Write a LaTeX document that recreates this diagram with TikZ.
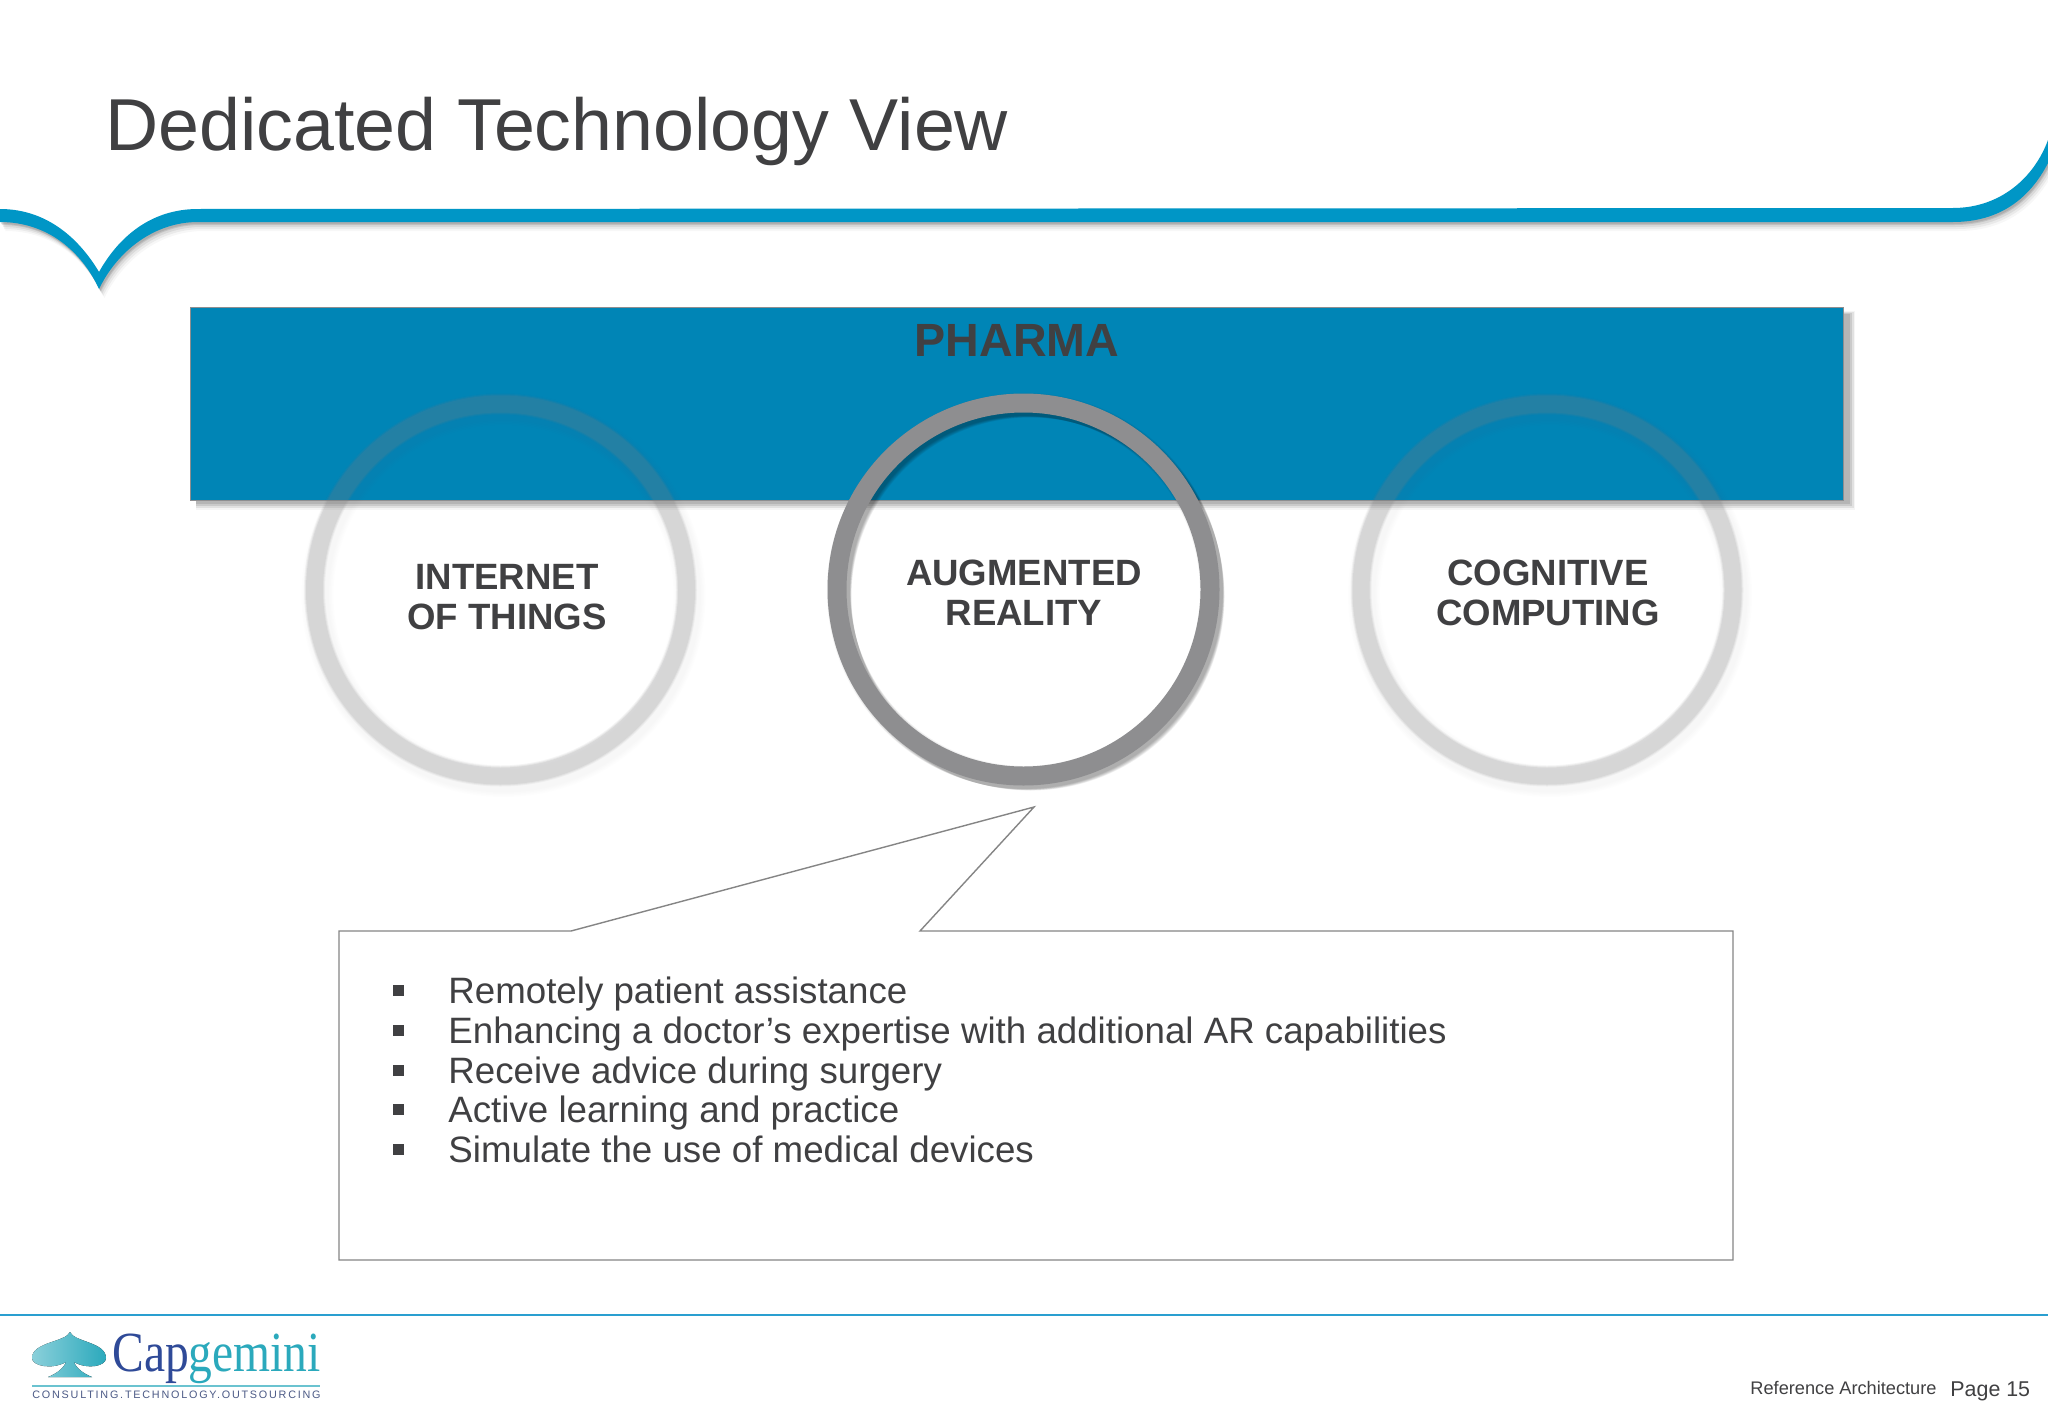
\documentclass[tikz,border=0pt]{standalone}
\usepackage{graphicx}
\usepackage{fontspec}
\setmainfont{Liberation Sans}
\newfontfamily\logoserif{Liberation Serif}
\newfontfamily\logotag[LetterSpace=16.5]{Liberation Sans}
\usetikzlibrary{shadings}
\definecolor{inkdark}{HTML}{404042}
\definecolor{bandblue}{HTML}{0096C6}
\definecolor{boxblue}{HTML}{0085B6}
\definecolor{ringgrey}{HTML}{8E8E90}
\definecolor{sidering}{HTML}{808082}
\definecolor{calloutline}{HTML}{858585}
\definecolor{footline}{HTML}{2A9FD0}
\definecolor{logoblue}{HTML}{2F4A98}
\definecolor{logoteal}{HTML}{2BA9BC}
\definecolor{tagslate}{HTML}{4C5A86}
\tikzset{
  x=0.5pt,y=-0.5pt,
  title text/.style={anchor=base west,inner sep=0pt,text=inkdark,font=\fontsize{36.8}{40}\selectfont},
  ring label/.style={align=center,inner sep=0pt,text=inkdark,font=\fontsize{18.3}{20}\selectfont\bfseries},
  bullet text/.style={anchor=base west,inner sep=0pt,text=inkdark,font=\fontsize{18.35}{20}\selectfont},
  bullet mark/.style={fill=inkdark,inner sep=0pt,minimum size=5.5pt,draw=none},
  foot small/.style={anchor=base west,inner sep=0pt,text=inkdark},
}
\def\BandPath{(0,209) .. controls (48,209) and (80,240) .. (99,272) .. controls (118,238) and (150,209) .. (198,209) -- (1953,208) .. controls (2000,208) and (2034,178) .. (2048,140) -- (2048,163) .. controls (2030,198) and (2000,222) .. (1953,222) -- (198,222) .. controls (155,222) and (118,250) .. (99,289) .. controls (82,252) and (48,222) .. (0,222) -- cycle}
\newcommand{\SideRing}[3]{%
  \foreach \w in {32,29,26,23}{\draw[line width=\w*0.5pt,sidering,opacity=0.010] (#1+3,#2+5) circle[radius=#3];}
  \draw[line width=10.5pt,sidering,opacity=0.07] (#1,#2) circle[radius=#3];
  \draw[line width=9.5pt,sidering,opacity=0.10] (#1,#2) circle[radius=#3];
  \draw[line width=8.5pt,sidering,opacity=0.12] (#1,#2) circle[radius=#3];
}
\begin{document}
\begin{tikzpicture}
\clip (0,0) rectangle (2048,1418);
\fill[white] (0,0) rectangle (2048,1418);
% header band with soft shadow
\foreach \o/\a in {9/0.03,7/0.05,5/0.07,3/0.10,2/0.10}{
  \fill[black,opacity=\a,shift={(0.3*\o pt,-0.5*\o pt)}] \BandPath;
}
\fill[bandblue] \BandPath;
\node[title text] (title) at (105,150) {Dedicated Technology View};
% blue banner
\fill[black,opacity=0.04] (196,311) rectangle (1855,510);
\fill[black,opacity=0.08] (196,312) rectangle (1854,508);
\fill[black,opacity=0.10] (196,313) rectangle (1852,506);
\fill[black,opacity=0.10] (196,314) rectangle (1850,504);
\node[fill=boxblue,draw=ringgrey,line width=0.5pt,inner sep=0pt,minimum width=826.5pt,minimum height=96.5pt] (banner) at (1016.5,403.5) {};
\node[anchor=base,inner sep=0pt,text=inkdark,font=\fontsize{23.3}{26}\selectfont\bfseries] (pharma) at (1017,356) {PHARMA};
% rings
\SideRing{500.5}{590}{186}
\SideRing{1547}{590}{186}
\foreach \o/\w in {10/15,9/16,8/17,7/18,6/19,5/20,4/21,3/22,2/23}{
  \draw[line width=\w*0.5pt,black,opacity=0.04] (1023.5+\o*0.7,589.5+\o*0.7) circle[radius=186.5];
}
\node[circle,draw=ringgrey,line width=9.5pt,minimum size=186.5pt,inner sep=0pt] (arring) at (1023.5,589.5) {};
\node[ring label] (iot) at (507,597) {INTERNET\\OF THINGS};
\node[ring label] (ar) at (1024,593) {AUGMENTED\\REALITY};
\node[ring label] (cc) at (1548,593) {COGNITIVE\\COMPUTING};
% callout
\draw[calloutline,line width=0.7pt,line join=miter,fill=white]
  (339,931) -- (571,931) -- (1034,807) -- (920,931) -- (1733,931) -- (1733,1260) -- (339,1260) -- cycle;
\foreach \n/\by/\t in {a/1003/Remotely patient assistance,b/1043/Enhancing a doctor’s expertise with additional AR capabilities,c/1083/Receive advice during surgery,d/1122/Active learning and practice,e/1162/Simulate the use of medical devices}{
  \node[bullet mark] (m\n) at (398,\by-13) {};
  \node[bullet text] (t\n) at (448,\by) {\t};
}
% footer
\draw[footline,line width=0.8pt] (0,1315) -- (2048,1315);
\fill[left color=logoteal!55!white,right color=logoteal]
  (70,1332) .. controls (74,1342) and (106,1342) .. (106,1358)
  .. controls (106,1366) and (88,1370) .. (74,1362)
  .. controls (76,1368) and (84,1374) .. (92,1377) -- (48,1377)
  .. controls (56,1374) and (64,1368) .. (66,1362)
  .. controls (52,1370) and (32,1366) .. (32,1358)
  .. controls (32,1342) and (66,1342) .. (70,1332) -- cycle;
\node[anchor=base west,inner sep=0pt,font=\fontsize{27}{30}\logoserif\selectfont] (logo) at (112,1371) {\scalebox{0.88}[1.05]{\textcolor{logoblue}{Cap}\textcolor{logoteal}{gemini}}};
\draw[logoteal!70!white,line width=0.8pt] (32,1386) -- (320,1386);
\node[anchor=base west,inner sep=0pt,text=tagslate,font=\fontsize{5.4}{7}\logotag\selectfont] (tag) at (32,1398) {CONSULTING.TECHNOLOGY.OUTSOURCING};
\node[foot small,font=\fontsize{9.1}{11}\selectfont] (ra) at (1750,1394) {Reference Architecture};
\node[foot small,font=\fontsize{10.7}{12}\selectfont] (pg) at (1950,1396) {Page 15};
\end{tikzpicture}
\end{document}
